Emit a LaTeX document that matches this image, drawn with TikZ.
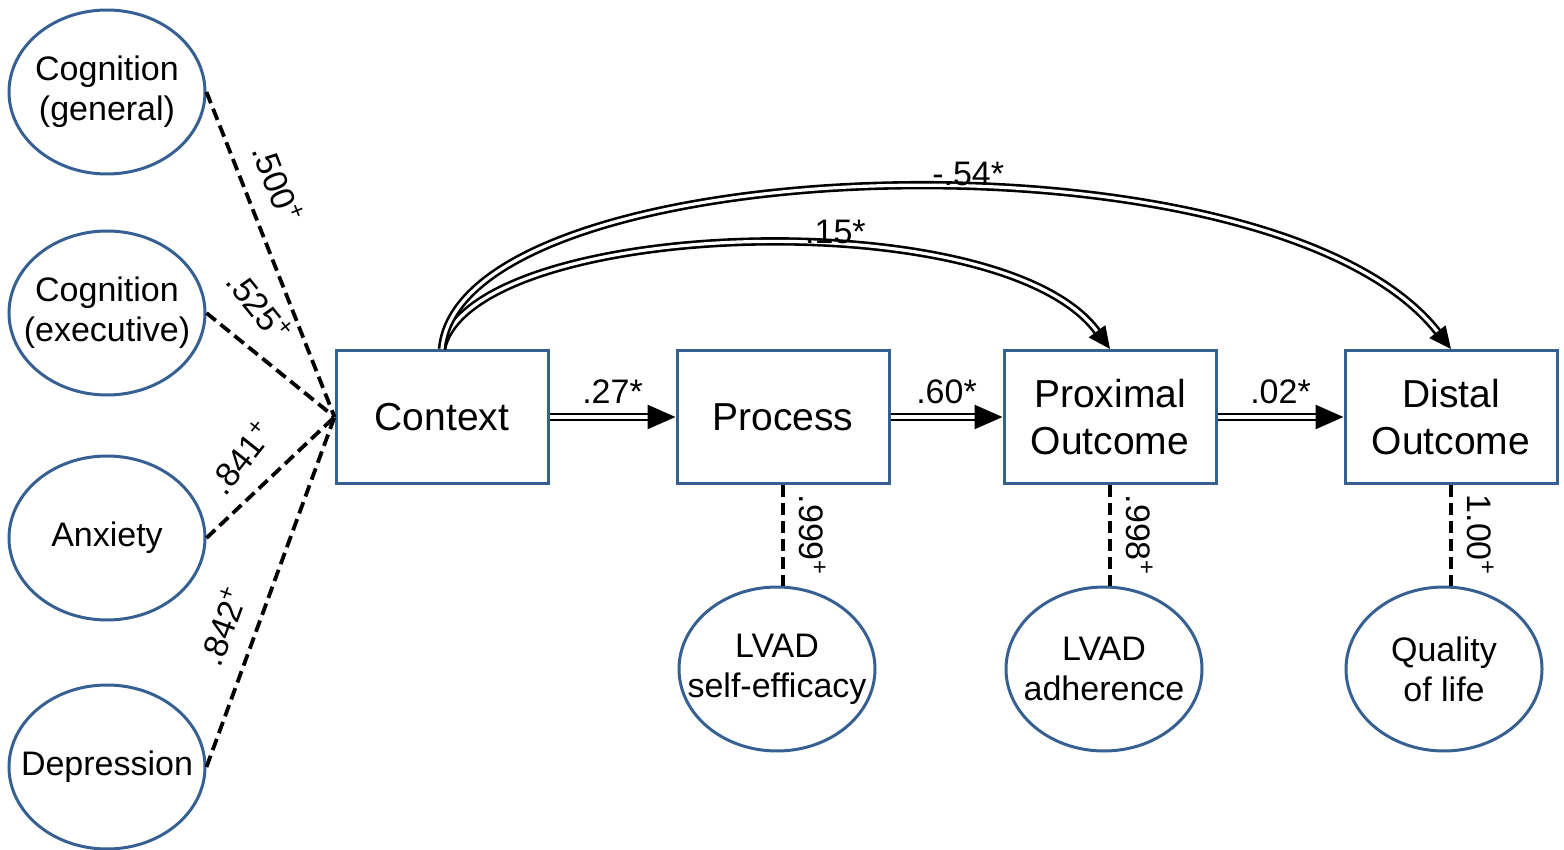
\documentclass[tikz,border=0pt]{standalone}
\usepackage{fontspec}
\setmainfont{Liberation Sans}
\usetikzlibrary{shapes.geometric}
\usetikzlibrary{arrows.meta}
\definecolor{frameblue}{RGB}{55,96,146}

\begin{document}
\begin{tikzpicture}[
        x=0.5pt, y=-0.5pt,
        latent/.style={ellipse,draw=frameblue,line width=1.5pt,minimum width=98pt,minimum height=82pt,inner sep=0pt},
        lattext/.style={align=center,font=\fontsize{17}{20}\selectfont},
        construct/.style={rectangle,draw=frameblue,line width=1.5pt,minimum width=106pt,minimum height=66.5pt,align=center,font=\fontsize{19.5}{23.5}\selectfont},
        loading/.style={line width=1.9pt,dash pattern=on 6pt off 3pt},
        effect/.style={double=white,double distance=1.6pt,line width=1.3pt,-{Triangle[length=14pt,width=12pt]}},
        bigeffect/.style={double=white,double distance=1.6pt,line width=1.3pt,-{Triangle[length=11pt,width=10pt]}},
        coef/.style={font=\fontsize{17}{19}\selectfont,inner sep=2pt},
        ]
        \useasboundingbox (0,0) rectangle (1564,850);

        \node[latent,label={[lattext]center:Cognition\\(general)}](cog1) at (107,92){};
        \node[latent,label={[lattext]center:Cognition\\(executive)}](cog2) at (107,313){};
        \node[latent,label={[lattext]center:Anxiety}](anx) at (107,538){};
        \node[latent,label={[lattext]center:Depression}](dep) at (107,767){};

        \node[construct](ctx) at (442,417){Context};
        \node[construct](proc) at (783,417){Process};
        \node[construct](prox) at (1110,417){Proximal\\Outcome};
        \node[construct](dist) at (1451,417){Distal\\Outcome};

        \node[latent,label={[lattext]center:LVAD\\self-efficacy}](eff) at (777,669){};
        \node[latent,label={[lattext]center:LVAD\\adherence}](adh) at (1104,669){};
        \node[latent,label={[lattext]center:Quality\\of life}](qol) at (1444,669){};

        % loadings on context
        \draw[loading] (cog1.east) -- (ctx.west) node[coef,pos=0.32,sloped,above=7pt]{.500\textsuperscript{+}};
        \draw[loading] (cog2.east) -- (ctx.west) node[coef,pos=0.2,sloped,above=10pt,rotate=-12]{.525\textsuperscript{+}};
        \draw[loading] (anx.east) -- (ctx.west) node[coef,pos=0.47,sloped,above=8pt,rotate=8]{.841\textsuperscript{+}};
        \draw[loading] (dep.east) -- (ctx.west) node[coef,pos=0.37,sloped,above=7pt]{.842\textsuperscript{+}};

        % indicators below
        \draw[loading] (proc.south) -- (proc.south |- eff.north) node[coef,midway,sloped,allow upside down,above=5pt]{.999\textsuperscript{+}};
        \draw[loading] (prox.south) -- (prox.south |- adh.north) node[coef,midway,sloped,allow upside down,above=5pt]{.998\textsuperscript{+}};
        \draw[loading] (dist.south) -- (dist.south |- qol.north) node[coef,midway,sloped,allow upside down,above=5pt]{1.00\textsuperscript{+}};

        % paths
        \draw[effect] (ctx.east) -- (proc.west) node[coef,midway,above=4pt]{.27*};
        \draw[effect] (proc.east) -- (prox.west) node[coef,midway,above=4pt]{.60*};
        \draw[effect] (prox.east) -- (dist.west) node[coef,midway,above=4pt]{.02*};
        \draw[bigeffect] (ctx.north) .. controls +(28,-130) and +(-110,-150) .. (prox.north) node[coef,pos=0.6,above=-1pt]{.15*};
        \draw[bigeffect] (ctx.north) .. controls +(18,-200) and +(-180,-230) .. (dist.north) node[coef,pos=0.56,above=-1pt]{-.54*};
\end{tikzpicture}
\end{document}
